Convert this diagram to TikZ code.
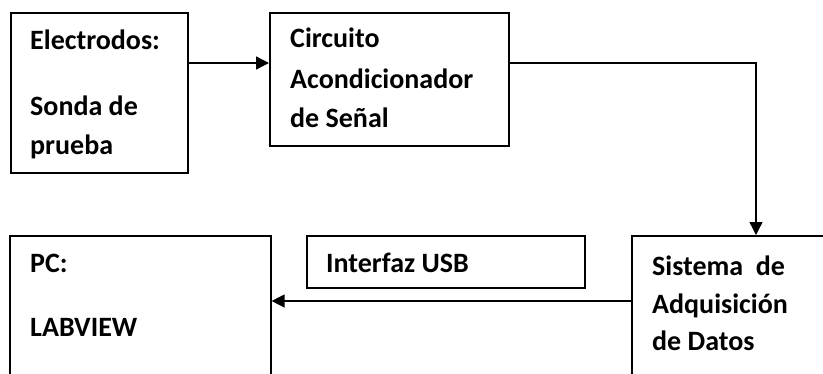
\documentclass[tikz,border=0pt]{standalone}
\usepackage{fontspec}
\setmainfont{Carlito}
\usetikzlibrary{arrows.meta}
\tikzset{
  bloque/.style={draw,line width=1.6pt,rectangle,anchor=north west,inner sep=0pt},
  texto/.style={anchor=base west,inner sep=0pt,font=\fontsize{28}{32}\selectfont\bfseries},
  flecha/.style={line width=1.4pt,-{Triangle[length=13pt,width=13pt]}}
}
\begin{document}
\begin{tikzpicture}[x=1pt,y=-1pt]
	\useasboundingbox (0,0) rectangle (823,373);
	\clip (0,0) rectangle (823,373);

	%bloques
	\node[bloque,minimum width=177pt,minimum height=160pt] (elec) at (10,12) {};
	\node[bloque,minimum width=239pt,minimum height=133pt] (circ) at (269,12) {};
	\node[bloque,minimum width=261pt,minimum height=165pt] (pc) at (9,235) {};
	\node[bloque,minimum width=278pt,minimum height=52pt] (usb) at (306,235) {};
	\node[bloque,minimum width=219pt,minimum height=165pt] (sist) at (631,235) {};

	%textos
	\node[texto] (elec1) at (30,49) {Electrodos:};
	\node[texto] (elec2) at (30,115) {Sonda de};
	\node[texto] (elec3) at (30,154) {prueba};
	\node[texto] (circ1) at (290,47) {Circuito};
	\node[texto] (circ2) at (290,88) {Acondicionador};
	\node[texto] (circ3) at (290,127) {de Señal};
	\node[texto] (pc1) at (30,272) {PC:};
	\node[texto] (pc2) at (30,336) {LABVIEW};
	\node[texto] (usb1) at (326,272) {Interfaz USB};
	\node[texto] (sist1) at (652,275) {Sistema\ \ de};
	\node[texto] (sist2) at (652,313) {Adquisición};
	\node[texto] (sist3) at (652,350) {de Datos};

	%conexiones
	\coordinate (nivelA) at (0,63);
	\coordinate (bajada) at (756,0);
	\coordinate (nivelB) at (0,301);
	\draw[flecha] (elec.east |- nivelA) -- (circ.west |- nivelA);
	\draw[flecha] (circ.east |- nivelA) -| (sist.north -| bajada);
	\draw[flecha] (sist.west |- nivelB) -- (pc.east |- nivelB);
\end{tikzpicture}
\end{document}
